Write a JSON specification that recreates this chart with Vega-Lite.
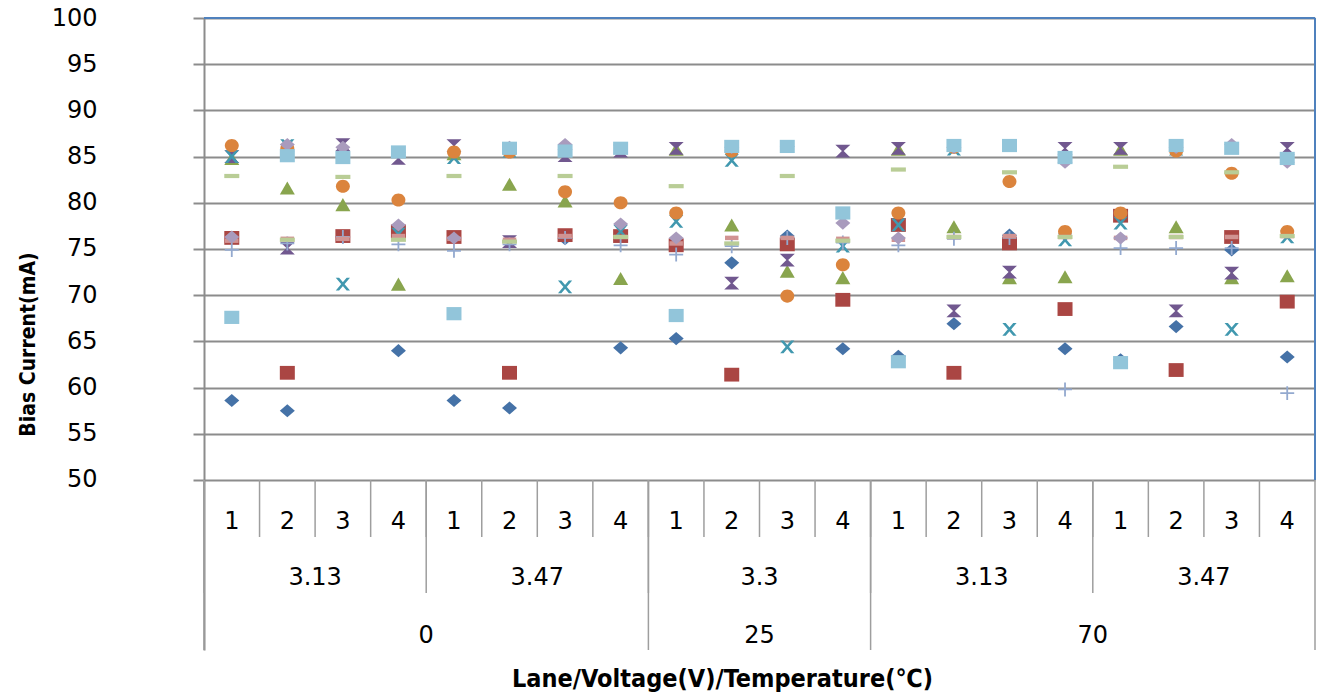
{
  "$schema": "https://vega.github.io/schema/vega-lite/v6.json",
  "width": 1111,
  "height": 632,
  "autosize": "none",
  "padding": {"left": 204, "top": 18, "right": 2, "bottom": 46},
  "background": "white",
  "config": {
    "view": {"stroke": null},
    "axisX": {"labels": false, "ticks": false, "domain": false, "grid": false,
      "titleFont": "DejaVu Sans Condensed", "titleFontWeight": "bold", "titleFontSize": 25, "titleColor": "#000000",
      "titleX": 518, "titleY": 28, "titleAlign": "center", "titleBaseline": "middle"}
  },
  "data": {"values": [
    {"idx": 1, "lane": "1", "volt": "3.13", "temp": "0", "S1": 58.6, "S2": 76.2, "S3": 84.8, "S4": 85.0, "S5": 85.0, "S6": 86.2, "S7": 74.9, "S8": 75.9, "S9": 82.9, "S10": 76.3, "S11": 67.6},
    {"idx": 2, "lane": "2", "volt": "3.13", "temp": "0", "S1": 57.5, "S2": 61.6, "S3": 81.6, "S4": 75.1, "S5": 86.2, "S6": 85.9, "S7": 75.6, "S8": 76.1, "S9": 76.0, "S10": 86.3, "S11": 85.1},
    {"idx": 3, "lane": "3", "volt": "3.13", "temp": "0", "S1": 76.3, "S2": 76.4, "S3": 79.8, "S4": 86.3, "S5": 71.2, "S6": 81.8, "S7": 76.3, "S8": 76.1, "S9": 82.8, "S10": 86.0, "S11": 84.9},
    {"idx": 4, "lane": "4", "volt": "3.13", "temp": "0", "S1": 64.0, "S2": 76.9, "S3": 71.2, "S4": 84.8, "S5": 76.6, "S6": 80.3, "S7": 75.5, "S8": 76.4, "S9": 76.0, "S10": 77.6, "S11": 85.5},
    {"idx": 5, "lane": "1", "volt": "3.47", "temp": "0", "S1": 58.6, "S2": 76.3, "S3": 85.3, "S4": 86.2, "S5": 84.9, "S6": 85.5, "S7": 74.8, "S8": 76.1, "S9": 82.9, "S10": 76.2, "S11": 68.0},
    {"idx": 6, "lane": "2", "volt": "3.47", "temp": "0", "S1": 57.8, "S2": 61.6, "S3": 82.0, "S4": 75.8, "S5": 85.6, "S6": 85.5, "S7": 75.5, "S8": 76.0, "S9": 75.8, "S10": 86.0, "S11": 85.9},
    {"idx": 7, "lane": "3", "volt": "3.47", "temp": "0", "S1": 76.1, "S2": 76.5, "S3": 80.2, "S4": 85.1, "S5": 70.9, "S6": 81.2, "S7": 76.2, "S8": 76.4, "S9": 82.9, "S10": 86.3, "S11": 85.6},
    {"idx": 8, "lane": "4", "volt": "3.47", "temp": "0", "S1": 64.3, "S2": 76.4, "S3": 71.8, "S4": 85.6, "S5": 76.9, "S6": 80.0, "S7": 75.4, "S8": 76.3, "S9": 76.3, "S10": 77.7, "S11": 85.9},
    {"idx": 9, "lane": "1", "volt": "3.3", "temp": "25", "S1": 65.3, "S2": 75.4, "S3": 85.8, "S4": 85.9, "S5": 78.0, "S6": 78.9, "S7": 74.4, "S8": 75.6, "S9": 81.8, "S10": 76.2, "S11": 67.8},
    {"idx": 10, "lane": "2", "volt": "3.3", "temp": "25", "S1": 73.5, "S2": 61.4, "S3": 77.6, "S4": 71.3, "S5": 84.6, "S6": 85.6, "S7": 75.3, "S8": 76.2, "S9": 75.6, "S10": 86.0, "S11": 86.1},
    {"idx": 11, "lane": "3", "volt": "3.3", "temp": "25", "S1": 76.4, "S2": 75.5, "S3": 72.6, "S4": 73.8, "S5": 64.4, "S6": 69.9, "S7": 76.2, "S8": 76.2, "S9": 82.9, "S10": 86.1, "S11": 86.1},
    {"idx": 12, "lane": "4", "volt": "3.3", "temp": "25", "S1": 64.2, "S2": 69.5, "S3": 71.9, "S4": 85.6, "S5": 75.3, "S6": 73.3, "S7": 75.7, "S8": 76.1, "S9": 75.9, "S10": 77.8, "S11": 78.9},
    {"idx": 13, "lane": "1", "volt": "3.13", "temp": "70", "S1": 63.4, "S2": 77.6, "S3": 85.8, "S4": 85.9, "S5": 77.6, "S6": 78.9, "S7": 75.4, "S8": 76.0, "S9": 83.6, "S10": 76.2, "S11": 62.8},
    {"idx": 14, "lane": "2", "volt": "3.13", "temp": "70", "S1": 66.9, "S2": 61.6, "S3": 77.4, "S4": 68.3, "S5": 85.8, "S6": 86.0, "S7": 76.1, "S8": 76.3, "S9": 76.3, "S10": 86.0, "S11": 86.2},
    {"idx": 15, "lane": "3", "volt": "3.13", "temp": "70", "S1": 76.5, "S2": 75.6, "S3": 71.9, "S4": 72.5, "S5": 66.3, "S6": 82.3, "S7": 76.2, "S8": 76.4, "S9": 83.3, "S10": 86.2, "S11": 86.2},
    {"idx": 16, "lane": "4", "volt": "3.13", "temp": "70", "S1": 64.2, "S2": 68.5, "S3": 72.0, "S4": 85.9, "S5": 76.0, "S6": 76.9, "S7": 59.8, "S8": 76.3, "S9": 76.3, "S10": 84.4, "S11": 84.9},
    {"idx": 17, "lane": "1", "volt": "3.47", "temp": "70", "S1": 63.0, "S2": 78.6, "S3": 85.8, "S4": 85.9, "S5": 77.8, "S6": 78.9, "S7": 75.1, "S8": 76.2, "S9": 83.9, "S10": 76.2, "S11": 62.7},
    {"idx": 18, "lane": "2", "volt": "3.47", "temp": "70", "S1": 66.6, "S2": 61.9, "S3": 77.4, "S4": 68.3, "S5": 85.8, "S6": 85.6, "S7": 75.1, "S8": 76.3, "S9": 76.3, "S10": 86.0, "S11": 86.2},
    {"idx": 19, "lane": "3", "volt": "3.47", "temp": "70", "S1": 74.9, "S2": 76.3, "S3": 71.9, "S4": 72.4, "S5": 66.3, "S6": 83.2, "S7": 75.1, "S8": 76.3, "S9": 83.3, "S10": 86.3, "S11": 85.9},
    {"idx": 20, "lane": "4", "volt": "3.47", "temp": "70", "S1": 63.3, "S2": 69.3, "S3": 72.1, "S4": 85.9, "S5": 76.3, "S6": 76.9, "S7": 59.4, "S8": 76.4, "S9": 76.4, "S10": 84.4, "S11": 84.8}
  ]},
  "layer": [
    {
      "mark": {"type": "rule", "color": "#9E9E9E", "strokeWidth": 1.5},
      "encoding": {
        "x": {"field": "idx", "type": "ordinal", "bandPosition": 0, "scale": {"type": "band", "paddingInner": 0, "paddingOuter": 0}, "title": "Lane/Voltage(V)/Temperature(℃)"},
        "y": {"datum": 50},
        "y2": {"datum": 43.83}
      }
    },
    {
      "transform": [{"filter": "datum.lane == '1'"}],
      "mark": {"type": "rule", "color": "#9E9E9E", "strokeWidth": 1.5},
      "encoding": {
        "x": {"field": "idx", "type": "ordinal", "bandPosition": 0, "title": "Lane/Voltage(V)/Temperature(℃)"},
        "y": {"datum": 50},
        "y2": {"datum": 37.77}
      }
    },
    {
      "transform": [{"filter": "datum.idx == 1 || datum.idx == 9 || datum.idx == 13"}],
      "mark": {"type": "rule", "color": "#9E9E9E", "strokeWidth": 1.5},
      "encoding": {
        "x": {"field": "idx", "type": "ordinal", "bandPosition": 0, "title": "Lane/Voltage(V)/Temperature(℃)"},
        "y": {"datum": 50},
        "y2": {"datum": 31.6}
      }
    },
    {
      "transform": [{"filter": "datum.idx == 20"}],
      "mark": {"type": "rule", "color": "#9E9E9E", "strokeWidth": 1.5},
      "encoding": {
        "x": {"field": "idx", "type": "ordinal", "bandPosition": 1, "title": "Lane/Voltage(V)/Temperature(℃)"},
        "y": {"datum": 50},
        "y2": {"datum": 31.6}
      }
    },
    {
      "mark": {"type": "text", "font": "DejaVu Sans", "fontSize": 24, "color": "#000000", "align": "center", "baseline": "middle"},
      "encoding": {
        "x": {"field": "idx", "type": "ordinal", "title": "Lane/Voltage(V)/Temperature(℃)"},
        "y": {"datum": 45.45},
        "text": {"field": "lane"}
      }
    },
    {
      "transform": [{"filter": "datum.lane == '3'"}],
      "mark": {"type": "text", "font": "DejaVu Sans", "fontSize": 24, "color": "#000000", "align": "center", "baseline": "middle"},
      "encoding": {
        "x": {"field": "idx", "type": "ordinal", "bandPosition": 0, "title": "Lane/Voltage(V)/Temperature(℃)"},
        "y": {"datum": 39.4},
        "text": {"field": "volt"}
      }
    },
    {
      "transform": [{"filter": "datum.idx == 5 || datum.idx == 11 || datum.idx == 17"}],
      "mark": {"type": "text", "font": "DejaVu Sans", "fontSize": 24, "color": "#000000", "align": "center", "baseline": "middle"},
      "encoding": {
        "x": {"field": "idx", "type": "ordinal", "bandPosition": 0, "title": "Lane/Voltage(V)/Temperature(℃)"},
        "y": {"datum": 33.1},
        "text": {"field": "temp"}
      }
    },
    {
      "mark": {"type": "rule", "color": "#4F81BD", "strokeWidth": 2},
      "encoding": {"y": {"datum": 100}}
    },
    {
      "transform": [{"filter": "datum.idx == 20"}],
      "mark": {"type": "rule", "color": "#4F81BD", "strokeWidth": 2},
      "encoding": {
        "x": {"field": "idx", "type": "ordinal", "bandPosition": 1, "title": "Lane/Voltage(V)/Temperature(℃)"},
        "y": {"datum": 100},
        "y2": {"datum": 50}
      }
    },
    {
      "transform": [{"fold": ["S1", "S2", "S3", "S4", "S5", "S6", "S7", "S8", "S9", "S10", "S11"], "as": ["series", "value"]}],
      "mark": {"type": "point", "filled": true, "opacity": 1, "size": 225, "strokeWidth": 0},
      "encoding": {
        "x": {"field": "idx", "type": "ordinal", "title": "Lane/Voltage(V)/Temperature(℃)"},
        "y": {
          "field": "value", "type": "quantitative",
          "scale": {"domain": [31.6, 100], "nice": false, "zero": false},
          "axis": {"values": [50, 55, 60, 65, 70, 75, 80, 85, 90, 95, 100],
            "grid": true, "gridColor": "#8C8C8C", "gridWidth": 2,
            "domainColor": "#8C8C8C", "domainWidth": 2,
            "tickColor": "#8C8C8C", "tickSize": 11, "tickWidth": 2,
            "labelFont": "DejaVu Sans", "labelFontSize": 24, "labelColor": "#000000", "labelPadding": 96, "labelFlush": false,
            "title": "Bias Current(mA)", "titleFont": "DejaVu Sans Condensed", "titleFontWeight": "bold", "titleFontSize": 21,
            "titleColor": "#000000", "titleX": -176, "titleY": 326, "titleAngle": -90, "titleAlign": "center", "titleBaseline": "middle"}
        },
        "color": {
          "field": "series", "type": "nominal", "legend": null,
          "scale": {"domain": ["S1", "S2", "S3", "S4", "S5", "S6", "S7", "S8", "S9", "S10", "S11"],
            "range": ["#4572A7", "#AA4643", "#89A54E", "#71588F", "#4198AF", "#DB843D", "#93A9CF", "#D19392", "#B9CD96", "#A99BBD", "#92C5DA"]}
        },
        "shape": {
          "field": "series", "type": "nominal", "legend": null,
          "scale": {"domain": ["S1", "S2", "S3", "S4", "S5", "S6", "S7", "S8", "S9", "S10", "S11"],
            "range": [
              "M0,-0.87L1,0L0,0.87L-1,0Z",
              "M-1,-0.92H1V0.92H-1Z",
              "M0,-0.87L1,0.87H-1Z",
              "M-1,-0.85H1L0.12,0L1,0.85H-1L-0.12,0Z",
              "M-0.95,-0.85L-0.5,-0.85L0.95,0.85L0.5,0.85Z M0.5,-0.85L0.95,-0.85L-0.5,0.85L-0.95,0.85Z",
              "M0.93,0A0.93,0.87 0 1,1 -0.93,0A0.93,0.87 0 1,1 0.93,0Z",
              "M-0.12,-0.93H0.12V-0.12H0.93V0.12H0.12V0.93H-0.12V0.12H-0.93V-0.12H-0.12Z",
              "M-0.9,-0.3H0.9V0.3H-0.9Z",
              "M-1,-0.28H1V0.28H-1Z",
              "M0,-0.87L1,0L0,0.87L-1,0Z",
              "M-1,-0.88H1V0.88H-1Z"
            ]}
        }
      }
    }
  ]
}
